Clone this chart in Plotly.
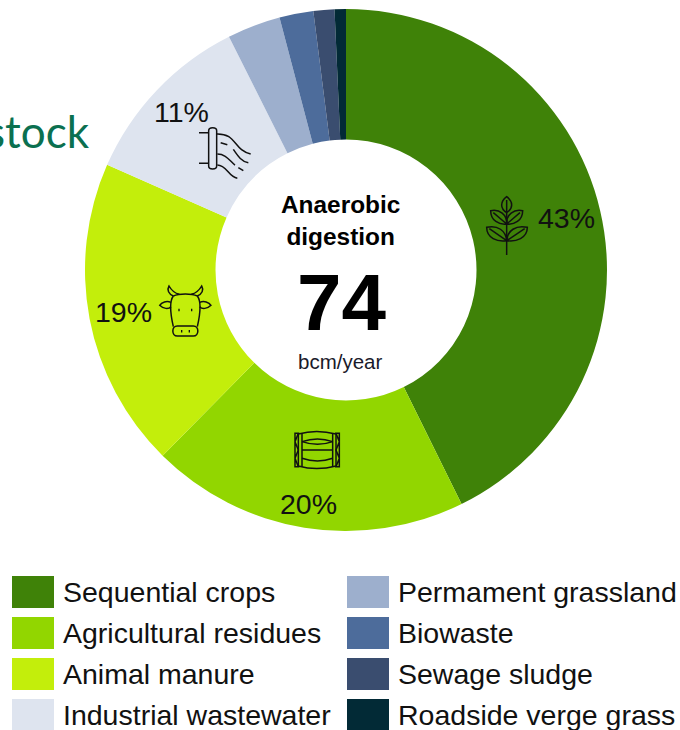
import re
import plotly.graph_objects as go

W, H = 680, 730

categories = ["Sequential crops", "Agricultural residues", "Animal manure", "Industrial wastewater",
              "Permament grassland", "Biowaste", "Sewage sludge", "Roadside verge grass"]
shares = [42.7, 19.7, 19.2, 11.0, 3.3, 2.1, 1.3, 0.7]
colors = ["#3F8208", "#92D600", "#C3EE0B", "#DEE4EF", "#9DAFCD", "#4D6C9B", "#3A4D6F", "#022A36"]
share_labels = ["43%", "20%", "19%", "11%"]
share_label_px = [(566, 218), (308, 504), (123, 312), (181, 112)]
center_title = "Anaerobic<br>digestion"
center_value = "74"
center_unit = "bcm/year"
cut_title = "stock"

FONT = "Liberation Sans, Arial, sans-serif"


def px(x):
    return x / W


def py(y):
    return 1 - y / H


def icon_path(d, ox, oy, s=1 / 3):
    out, is_x = [], True
    for tok in re.findall(r"[MLCQZ]|-?[\d.]+", d):
        if tok.isalpha():
            out.append(tok)
            is_x = True
        else:
            v = float(tok)
            if is_x:
                out.append(f"{px(ox + v * s):.5f}")
            else:
                out.append(f"{py(oy + v * s):.5f}")
            is_x = not is_x
    return " ".join(out)


leaf = [
    "M110 225 L110 98",
    "M110 50 C90 65 90 85 110 98 C130 85 130 65 110 50 Z M110 60 L110 98",
    "M110 132 C88 135 62 122 62 92 C88 86 112 104 110 132 Z M70 98 L110 132",
    "M110 132 C132 135 158 122 158 92 C132 86 108 104 110 132 Z M150 98 L110 132",
    "M110 182 C82 186 50 175 50 142 C82 134 108 152 110 182 Z M58 146 L110 182",
    "M110 182 C138 186 172 175 172 142 C138 134 112 152 110 182 Z M164 146 L110 182",
]
cow = [
    "M250 78 C268 70 304 70 322 78 C335 95 330 135 322 170",
    "M250 78 C237 95 242 135 250 170",
    "M262 168 C244 168 244 198 262 198 L310 198 C328 198 328 168 310 168 Z",
    "M250 78 C236 72 230 60 237 48 C245 62 256 70 268 73",
    "M322 78 C336 72 342 60 335 48 C327 62 316 70 304 73",
    "M243 97 C230 92 215 96 209 106 C220 117 236 118 243 110",
    "M329 97 C342 92 357 96 363 106 C352 117 336 118 329 110",
]
cow_dots = ["M265 120 L269 120 M303 120 L307 120 M273 184 L277 184 M296 184 L300 184"]
bale = [
    "M625 492 C660 482 700 482 738 492 L738 588 C700 598 660 598 625 588 Z",
    "M636 490 L636 590 M728 490 L728 590",
    "M636 515 C665 505 700 505 728 515",
    "M636 540 L728 540",
    "M636 565 C665 575 700 575 728 565",
    "M636 515 C665 525 700 525 728 515",
    "M615 490 L625 490 L615 515 L625 540 L615 565 L625 590 L615 590 Z",
    "M748 490 L738 490 L748 515 L738 540 L748 565 L738 590 L748 590 Z",
]
pipe = [
    "M626 392 C626 380 650 380 650 392 L650 498 C650 510 626 510 626 498 Z",
    "M597 398 L626 398 M597 490 L626 490",
    "M650 402 C710 400 700 450 752 462",
    "M662 428 L682 434 M700 448 C715 470 725 485 745 488",
    "M652 462 C680 462 690 485 705 495 M715 503 L730 512",
    "M652 495 C680 495 685 530 712 535",
]
icons = [(leaf, 470, 180, 1.5), (cow, 90, 270, 1.5), (cow_dots, 90, 270, 2.5), (bale, 90, 270, 1.5), (pipe, 0, 0, 1.5)]

fig = go.Figure(go.Pie(
    labels=categories, values=shares, sort=False, direction="clockwise", rotation=0,
    hole=0.5, textinfo="none", showlegend=False,
    marker=dict(colors=colors, line=dict(width=0)),
    domain=dict(x=[px(85), px(607)], y=[py(531), py(9)]),
))

shapes, annos = [], []


def text(x, y, s, size, color="#000000", bold=False, xanchor="center", family=FONT):
    annos.append(dict(x=px(x), y=py(y), xref="paper", yref="paper", text=f"<b>{s}</b>" if bold else s,
                      showarrow=False, xanchor=xanchor, yanchor="middle", align="center",
                      font=dict(family=family, size=size, color=color)))


for s, (x, y) in zip(share_labels, share_label_px):
    text(x, y, s, 28.5, "#111111")

text(340, 220, center_title, 24.4, bold=True)
text(341, 302, center_value, 80, bold=True)
text(340, 361, center_unit, 20.5, "#1A1A2A")
text(92, 131, cut_title, 44, "#0B7050", xanchor="right", family="Lato, sans-serif")

for paths, ox, oy, lw in icons:
    for d in paths:
        shapes.append(dict(type="path", path=icon_path(d, ox, oy), xref="paper", yref="paper",
                           line=dict(color="#111111", width=lw)))

row_h = 41
for i, (cat, col) in enumerate(zip(categories, colors)):
    c, r = i // 4, i % 4
    x0 = 12 if c == 0 else 347
    y0 = 576 + r * row_h
    shapes.append(dict(type="rect", xref="paper", yref="paper", x0=px(x0), x1=px(x0 + 42),
                       y0=py(y0), y1=py(y0 + 32), fillcolor=col, line=dict(width=0)))
    text(x0 + 49, y0 + 15.5, cat, 28.5, "#111111", xanchor="left")

fig.update_layout(width=W, height=H, margin=dict(l=0, r=0, t=0, b=0), paper_bgcolor="white",
                  plot_bgcolor="white", shapes=shapes, annotations=annos)
fig.write_html("out.html", config=dict(displayModeBar=False),
               post_script="document.body.style.margin='0';document.documentElement.style.overflow='hidden';")
